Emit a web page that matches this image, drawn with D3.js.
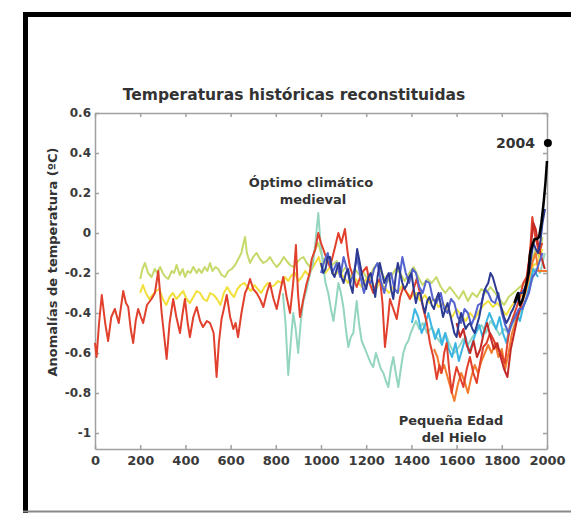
<!DOCTYPE html>
<html>
<head>
<meta charset="utf-8">
<script src="https://cdn.jsdelivr.net/npm/d3@7"></script>
<style>
  html, body { margin: 0; padding: 0; background: #fff; }
  svg { display: block; }
  text { font-family: "DejaVu Sans", sans-serif; }
</style>
</head>
<body>
<svg id="chart" width="571" height="513"></svg>
<script>
// ---------- data (year, anomaly °C) ----------
const xTicks = [0, 200, 400, 600, 800, 1000, 1200, 1400, 1600, 1800, 2000];
const yTicks = [0.6, 0.4, 0.2, 0, -0.2, -0.4, -0.6, -0.8, -1];

const lightGreen = [[200,-0.23],[210,-0.18],[221,-0.15],[235,-0.2],[250,-0.22],[265,-0.18],[275,-0.2],[288,-0.17],[300,-0.2],[312,-0.22],[324,-0.23],[340,-0.19],[350,-0.2],[361,-0.16],[375,-0.21],[388,-0.18],[398,-0.22],[410,-0.19],[422,-0.2],[435,-0.17],[450,-0.2],[460,-0.18],[472,-0.2],[485,-0.17],[497,-0.19],[509,-0.15],[520,-0.19],[533,-0.17],[545,-0.18],[560,-0.21],[575,-0.22],[590,-0.19],[605,-0.18],[620,-0.16],[634,-0.13],[648,-0.1],[657,-0.05],[664,-0.02],[672,-0.1],[686,-0.15],[700,-0.12],[715,-0.1],[730,-0.13],[745,-0.15],[760,-0.14],[774,-0.12],[790,-0.15],[804,-0.17],[820,-0.15],[835,-0.12],[848,-0.14],[863,-0.16],[878,-0.17],[893,-0.15],[907,-0.13],[922,-0.12],[937,-0.15],[952,-0.17],[965,-0.12],[975,-0.08],[988,-0.05],[1000,-0.1],[1015,-0.15],[1030,-0.12],[1050,-0.16],[1070,-0.14],[1090,-0.2],[1110,-0.17],[1130,-0.22],[1150,-0.18],[1170,-0.21],[1190,-0.2],[1210,-0.24],[1230,-0.18],[1250,-0.15],[1270,-0.2],[1290,-0.25],[1310,-0.22],[1330,-0.18],[1350,-0.2],[1370,-0.24],[1390,-0.2],[1410,-0.17],[1430,-0.22],[1450,-0.26],[1470,-0.23],[1490,-0.25],[1510,-0.22],[1530,-0.27],[1550,-0.3],[1570,-0.27],[1590,-0.3],[1610,-0.33],[1630,-0.29],[1650,-0.34],[1670,-0.3],[1690,-0.32],[1710,-0.28],[1730,-0.3],[1750,-0.27],[1770,-0.3],[1790,-0.33],[1810,-0.36],[1830,-0.32],[1850,-0.3],[1870,-0.28],[1890,-0.26],[1910,-0.24],[1930,-0.15],[1950,-0.08],[1965,-0.12],[1980,-0.02]];

const yellow = [[200,-0.3],[212,-0.26],[225,-0.3],[240,-0.33],[255,-0.31],[270,-0.29],[285,-0.28],[300,-0.33],[315,-0.36],[330,-0.32],[345,-0.3],[360,-0.33],[375,-0.31],[390,-0.29],[405,-0.33],[420,-0.35],[435,-0.32],[450,-0.29],[465,-0.3],[480,-0.33],[495,-0.34],[510,-0.3],[525,-0.31],[540,-0.33],[555,-0.36],[570,-0.3],[585,-0.27],[600,-0.3],[615,-0.32],[630,-0.28],[645,-0.26],[660,-0.25],[675,-0.27],[690,-0.29],[705,-0.26],[720,-0.28],[735,-0.3],[750,-0.27],[765,-0.25],[780,-0.27],[795,-0.26],[810,-0.24],[825,-0.25],[840,-0.22],[855,-0.24],[870,-0.21],[885,-0.2],[900,-0.24],[915,-0.22],[930,-0.19],[945,-0.21],[960,-0.18],[975,-0.15],[990,-0.12],[1005,-0.18],[1020,-0.2],[1040,-0.17],[1060,-0.21],[1080,-0.19],[1100,-0.22],[1120,-0.25],[1140,-0.21],[1160,-0.24],[1180,-0.27],[1200,-0.23],[1220,-0.26],[1240,-0.29],[1260,-0.24],[1280,-0.27],[1300,-0.3],[1320,-0.27],[1340,-0.3],[1360,-0.26],[1380,-0.3],[1400,-0.32],[1420,-0.3],[1440,-0.34],[1460,-0.31],[1480,-0.35],[1500,-0.33],[1520,-0.37],[1540,-0.35],[1560,-0.39],[1580,-0.42],[1600,-0.38],[1620,-0.41],[1640,-0.44],[1660,-0.4],[1680,-0.43],[1700,-0.39],[1720,-0.36],[1740,-0.34],[1760,-0.37],[1780,-0.35],[1800,-0.38],[1820,-0.41],[1840,-0.37],[1860,-0.34],[1880,-0.32],[1900,-0.3],[1920,-0.24],[1940,-0.16],[1960,-0.15],[1980,-0.08]];

const teal = [[831,-0.3],[843,-0.45],[855,-0.71],[866,-0.55],[877,-0.4],[888,-0.48],[899,-0.6],[910,-0.45],[922,-0.34],[937,-0.28],[952,-0.2],[965,-0.15],[975,-0.05],[988,0.1],[998,-0.05],[1010,-0.17],[1020,-0.25],[1032,-0.3],[1044,-0.38],[1055,-0.44],[1066,-0.35],[1077,-0.25],[1088,-0.3],[1099,-0.37],[1110,-0.48],[1121,-0.57],[1132,-0.52],[1143,-0.5],[1150,-0.42],[1158,-0.34],[1168,-0.45],[1180,-0.54],[1195,-0.58],[1209,-0.62],[1220,-0.65],[1231,-0.67],[1243,-0.6],[1254,-0.64],[1265,-0.68],[1276,-0.7],[1287,-0.74],[1298,-0.77],[1309,-0.68],[1320,-0.62],[1331,-0.7],[1342,-0.77],[1353,-0.68],[1364,-0.6],[1375,-0.56],[1386,-0.54],[1397,-0.5],[1408,-0.47],[1420,-0.44],[1435,-0.48],[1450,-0.45],[1470,-0.5],[1490,-0.47],[1510,-0.52],[1530,-0.55],[1550,-0.5],[1570,-0.56],[1590,-0.6],[1610,-0.57],[1630,-0.53],[1650,-0.56],[1670,-0.52],[1690,-0.49],[1710,-0.46],[1730,-0.5],[1750,-0.44],[1770,-0.47],[1790,-0.51],[1810,-0.48],[1830,-0.5],[1850,-0.45],[1870,-0.42],[1890,-0.38],[1910,-0.33],[1930,-0.25],[1950,-0.18],[1970,-0.2],[1990,-0.1]];

const cyan = [[1402,-0.45],[1415,-0.38],[1430,-0.42],[1445,-0.5],[1460,-0.46],[1475,-0.4],[1490,-0.47],[1505,-0.53],[1520,-0.48],[1535,-0.56],[1550,-0.5],[1565,-0.58],[1580,-0.62],[1595,-0.55],[1610,-0.64],[1625,-0.58],[1640,-0.52],[1655,-0.6],[1670,-0.55],[1685,-0.5],[1700,-0.46],[1715,-0.52],[1730,-0.45],[1745,-0.4],[1760,-0.44],[1775,-0.48],[1790,-0.42],[1805,-0.5],[1820,-0.55],[1835,-0.47],[1850,-0.43],[1865,-0.4],[1880,-0.44],[1895,-0.37],[1910,-0.32],[1925,-0.25],[1940,-0.18],[1960,-0.22]];

const orange = [[1500,-0.58],[1515,-0.62],[1530,-0.7],[1545,-0.66],[1560,-0.72],[1575,-0.78],[1590,-0.84],[1605,-0.76],[1620,-0.7],[1635,-0.74],[1650,-0.8],[1665,-0.72],[1680,-0.66],[1695,-0.7],[1710,-0.64],[1725,-0.6],[1740,-0.56],[1755,-0.6],[1770,-0.55],[1785,-0.62],[1800,-0.58],[1815,-0.68],[1830,-0.6],[1845,-0.5],[1860,-0.45],[1875,-0.4],[1890,-0.35],[1905,-0.3],[1920,-0.22],[1935,-0.15],[1950,-0.1],[1962,-0.19],[1980,-0.19],[2000,-0.19]];

const darkRed = [[1600,-0.45],[1615,-0.52],[1630,-0.48],[1645,-0.56],[1660,-0.6],[1675,-0.54],[1690,-0.62],[1705,-0.58],[1720,-0.5],[1735,-0.45],[1750,-0.52],[1765,-0.58],[1780,-0.55],[1795,-0.62],[1810,-0.68],[1825,-0.72],[1840,-0.58],[1855,-0.5],[1870,-0.42],[1885,-0.36],[1900,-0.3],[1915,-0.2],[1930,-0.05],[1940,0.05],[1950,0.02],[1960,-0.05],[1975,-0.12],[1990,-0.18]];

const purpleBlue = [[1000,-0.2],[1015,-0.14],[1030,-0.1],[1050,-0.2],[1070,-0.15],[1085,-0.22],[1100,-0.12],[1115,-0.18],[1130,-0.25],[1145,-0.2],[1160,-0.12],[1175,-0.22],[1190,-0.3],[1205,-0.24],[1220,-0.25],[1235,-0.18],[1250,-0.15],[1265,-0.24],[1280,-0.3],[1295,-0.22],[1310,-0.2],[1325,-0.28],[1340,-0.3],[1350,-0.2],[1360,-0.12],[1375,-0.2],[1390,-0.25],[1405,-0.18],[1420,-0.2],[1435,-0.27],[1450,-0.3],[1465,-0.24],[1480,-0.25],[1495,-0.33],[1510,-0.35],[1530,-0.3],[1545,-0.38],[1560,-0.4],[1575,-0.33],[1590,-0.35],[1605,-0.42],[1620,-0.45],[1635,-0.38],[1650,-0.4],[1665,-0.46],[1680,-0.42],[1695,-0.36],[1710,-0.35],[1725,-0.28],[1740,-0.3],[1755,-0.34],[1770,-0.35],[1785,-0.3],[1800,-0.4],[1815,-0.46],[1830,-0.5],[1845,-0.45],[1860,-0.42],[1875,-0.38],[1890,-0.38],[1905,-0.34],[1920,-0.3],[1935,-0.22],[1950,-0.2],[1965,-0.15],[1980,-0.1]];

const darkBlue = [[1000,-0.15],[1010,-0.2],[1020,-0.18],[1030,-0.12],[1040,-0.12],[1050,-0.2],[1060,-0.22],[1070,-0.18],[1080,-0.15],[1090,-0.22],[1100,-0.25],[1110,-0.2],[1120,-0.18],[1130,-0.26],[1140,-0.3],[1150,-0.18],[1160,-0.08],[1170,-0.14],[1180,-0.2],[1190,-0.25],[1200,-0.28],[1210,-0.22],[1220,-0.2],[1230,-0.26],[1240,-0.32],[1250,-0.22],[1260,-0.15],[1270,-0.2],[1280,-0.25],[1290,-0.22],[1300,-0.2],[1310,-0.28],[1320,-0.33],[1330,-0.22],[1340,-0.15],[1350,-0.2],[1360,-0.25],[1370,-0.28],[1380,-0.26],[1390,-0.22],[1400,-0.2],[1410,-0.28],[1420,-0.35],[1430,-0.3],[1440,-0.3],[1450,-0.36],[1460,-0.4],[1470,-0.34],[1480,-0.32],[1490,-0.36],[1500,-0.38],[1510,-0.33],[1520,-0.3],[1530,-0.36],[1540,-0.42],[1550,-0.38],[1560,-0.35],[1570,-0.4],[1580,-0.45],[1590,-0.5],[1600,-0.52],[1610,-0.45],[1620,-0.4],[1630,-0.44],[1640,-0.48],[1650,-0.46],[1660,-0.45],[1670,-0.48],[1680,-0.5],[1690,-0.46],[1700,-0.42],[1710,-0.36],[1720,-0.3],[1730,-0.27],[1740,-0.25],[1750,-0.2],[1760,-0.22],[1770,-0.26],[1780,-0.3],[1790,-0.34],[1800,-0.38],[1810,-0.42],[1820,-0.45],[1830,-0.43],[1840,-0.4],[1850,-0.38],[1860,-0.35],[1870,-0.33],[1880,-0.3],[1890,-0.3],[1900,-0.28],[1910,-0.25],[1920,-0.2],[1930,-0.12],[1940,-0.05],[1950,-0.08],[1960,-0.1],[1970,-0.05],[1980,0.05],[1991,0.12]];

const moberg = [[0,-0.55],[7,-0.62],[18,-0.45],[30,-0.31],[45,-0.45],[58,-0.54],[72,-0.42],[88,-0.38],[105,-0.45],[125,-0.29],[137,-0.35],[147,-0.37],[158,-0.48],[169,-0.55],[180,-0.44],[191,-0.38],[203,-0.42],[213,-0.45],[230,-0.36],[250,-0.33],[265,-0.3],[280,-0.19],[295,-0.4],[317,-0.63],[330,-0.45],[346,-0.33],[360,-0.42],[376,-0.5],[388,-0.4],[398,-0.33],[410,-0.45],[420,-0.52],[435,-0.42],[450,-0.37],[465,-0.44],[478,-0.47],[495,-0.44],[509,-0.45],[525,-0.5],[538,-0.72],[548,-0.55],[560,-0.43],[572,-0.37],[583,-0.31],[598,-0.42],[612,-0.48],[622,-0.45],[633,-0.52],[648,-0.4],[664,-0.3],[676,-0.27],[686,-0.23],[700,-0.28],[715,-0.3],[730,-0.33],[745,-0.37],[760,-0.3],[774,-0.25],[790,-0.33],[804,-0.38],[818,-0.3],[833,-0.22],[848,-0.32],[863,-0.4],[877,-0.25],[889,-0.06],[898,-0.3],[907,-0.42],[922,-0.33],[937,-0.25],[950,-0.2],[959,-0.13],[975,-0.08],[988,0.0],[1000,-0.05],[1010,-0.08],[1025,-0.13],[1040,-0.17],[1060,-0.08],[1077,0.0],[1090,-0.05],[1106,0.02],[1118,-0.1],[1128,-0.17],[1143,-0.22],[1158,-0.27],[1180,-0.2],[1202,-0.17],[1215,-0.25],[1231,-0.3],[1246,-0.25],[1261,-0.23],[1272,-0.35],[1283,-0.57],[1295,-0.45],[1305,-0.33],[1320,-0.38],[1335,-0.43],[1350,-0.32],[1364,-0.27],[1380,-0.3],[1394,-0.33],[1410,-0.28],[1423,-0.23],[1438,-0.3],[1453,-0.38],[1468,-0.45],[1482,-0.55],[1497,-0.62],[1512,-0.73],[1524,-0.66],[1534,-0.7],[1545,-0.6],[1556,-0.55],[1567,-0.68],[1578,-0.8],[1590,-0.72],[1600,-0.67],[1615,-0.72],[1630,-0.77],[1645,-0.68],[1659,-0.62],[1674,-0.7],[1689,-0.75],[1704,-0.65],[1718,-0.57],[1733,-0.55],[1748,-0.5],[1762,-0.53],[1777,-0.57],[1795,-0.6],[1814,-0.65],[1825,-0.55],[1836,-0.47],[1850,-0.42],[1866,-0.37],[1880,-0.32],[1895,-0.25],[1910,-0.22],[1925,-0.1],[1935,0.08],[1945,0.0],[1955,-0.05],[1965,-0.1],[1979,-0.05]];

const instrumental = [[1856,-0.35],[1865,-0.32],[1872,-0.3],[1880,-0.36],[1890,-0.34],[1900,-0.3],[1910,-0.25],[1918,-0.2],[1925,-0.1],[1935,-0.06],[1945,-0.03],[1955,-0.03],[1965,-0.02],[1975,0.05],[1985,0.15],[1993,0.25],[2000,0.36]];

const point2004 = [2004, 0.45];

const series = [
  { data: lightGreen,   color: "#c5da6a" },
  { data: yellow,       color: "#f2df3c" },
  { data: teal,         color: "#94d5c0" },
  { data: cyan,         color: "#3cb5e3" },
  { data: orange,       color: "#f27b2e" },
  { data: moberg,       color: "#e0402c" },
  { data: darkRed,      color: "#c42a26" },
  { data: purpleBlue,   color: "#5563cf" },
  { data: darkBlue,     color: "#2d3a92" },
  { data: instrumental, color: "#000000" }
];

// ---------- drawing ----------
const svg = d3.select("#chart");
const x = d3.scaleLinear().domain([0, 2000]).range([95, 547]);
const y = d3.scaleLinear().domain([-1.08, 0.6]).range([449, 113]);

// frame
svg.append("path")
  .attr("d", "M25.5,513 V14.5 H575")
  .attr("fill", "none").attr("stroke", "#000").attr("stroke-width", 5);
svg.append("line").attr("x1", 23).attr("x2", 571).attr("y1", 511.5).attr("y2", 511.5)
  .attr("stroke", "#888").attr("stroke-width", 2);

// title
svg.append("text").attr("x", 294).attr("y", 100).attr("text-anchor", "middle")
  .attr("font-size", 15.5).attr("font-weight", "bold").attr("fill", "#333")
  .text("Temperaturas históricas reconstituidas");

// y label
svg.append("text").attr("transform", "translate(57,262) rotate(-90)")
  .attr("text-anchor", "middle").attr("font-size", 13).attr("font-weight", "bold").attr("fill", "#333")
  .text("Anomalías de temperatura (ºC)");

const fmtY = d => d === 0 ? "0" : (Number.isInteger(d) ? String(d) : d.toFixed(1));

function styleAxis(g, size) {
  g.selectAll("path, line").attr("stroke", "#a0a0a0").attr("stroke-width", 1.5);
  g.selectAll("text").attr("font-size", size).attr("font-weight", "bold").attr("fill", "#3a3a3a")
    .attr("font-family", "DejaVu Sans, sans-serif");
}

svg.append("g").attr("transform", "translate(0,449)")
  .call(d3.axisBottom(x).tickValues(xTicks).tickSizeInner(-4).tickSizeOuter(0).tickPadding(7).tickFormat(d3.format("d")))
  .call(styleAxis, 13);
svg.append("g").attr("transform", "translate(0,113)")
  .call(d3.axisTop(x).tickValues(xTicks).tickSizeInner(-4).tickSizeOuter(0).tickFormat(""))
  .call(styleAxis, 12);
svg.append("g").attr("transform", "translate(95,0)")
  .call(d3.axisLeft(y).tickValues(yTicks).tickSizeInner(-4).tickSizeOuter(0).tickPadding(4).tickFormat(fmtY))
  .call(styleAxis, 12);
svg.append("g").attr("transform", "translate(547,0)")
  .call(d3.axisRight(y).tickValues(yTicks).tickSizeInner(-4).tickSizeOuter(0).tickFormat(""))
  .call(styleAxis, 12);

// lines
const line = d3.line().x(d => x(d[0])).y(d => y(d[1]));
svg.append("g").selectAll("path").data(series).join("path")
  .attr("d", d => line(d.data))
  .attr("fill", "none")
  .attr("stroke", d => d.color)
  .attr("stroke-width", (d, i) => i === series.length - 1 ? 2.5 : 2)
  .attr("stroke-linejoin", "round");

// 2004 point
svg.append("circle").attr("cx", x(point2004[0])).attr("cy", y(point2004[1])).attr("r", 4).attr("fill", "#000");
svg.append("text").attr("x", x(point2004[0]) - 13).attr("y", y(point2004[1]) + 5)
  .attr("text-anchor", "end").attr("font-size", 14).attr("font-weight", "bold").attr("fill", "#333")
  .text("2004");

// annotations
const ann = svg.append("g").attr("font-size", 13).attr("font-weight", "bold").attr("fill", "#333").attr("text-anchor", "middle");
ann.append("text").attr("x", 311).attr("y", 187).text("Óptimo climático");
ann.append("text").attr("x", 313).attr("y", 204).text("medieval");
ann.append("text").attr("x", 451).attr("y", 425).text("Pequeña Edad");
ann.append("text").attr("x", 454).attr("y", 442).text("del Hielo");
</script>
</body>
</html>
